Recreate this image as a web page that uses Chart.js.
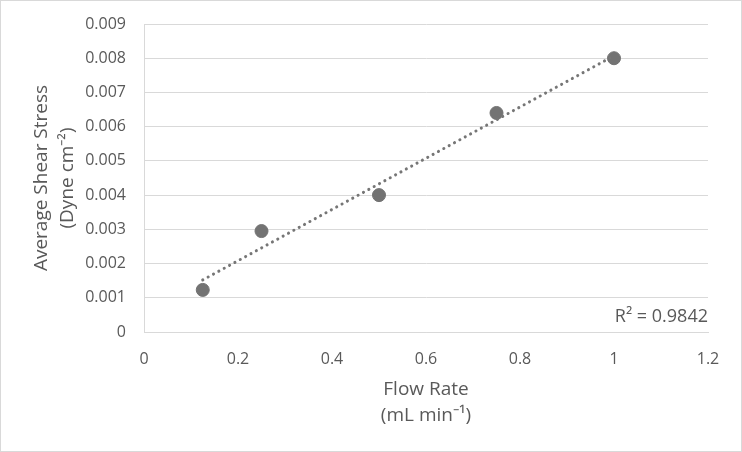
<!DOCTYPE html>
<html>
<head>
<meta charset="utf-8">
<script src="https://cdn.jsdelivr.net/npm/chart.js@4"></script>
<style>
  html, body { margin: 0; padding: 0; background: #fff; }
  #wrap { width: 742px; height: 452px; }
</style>
</head>
<body>
<div id="wrap"><canvas id="shearChart" width="742" height="452"></canvas></div>
<script>
// Gemeten waarden
const flowRate = [0.125, 0.25, 0.5, 0.75, 1];
const shearStress = [0.00123, 0.00295, 0.004, 0.0064, 0.008];
const xTicks = [0, 0.2, 0.4, 0.6, 0.8, 1, 1.2];
const yTicks = [0, 0.001, 0.002, 0.003, 0.004, 0.005, 0.006, 0.007, 0.008, 0.009];
const rSquaredLabel = 'R² = 0.9842';

// lineaire trendlijn (kleinste kwadraten)
function linearFit(xs, ys) {
    const n = xs.length;
    const mx = xs.reduce((a, b) => a + b, 0) / n;
    const my = ys.reduce((a, b) => a + b, 0) / n;
    let sxy = 0, sxx = 0;
    xs.forEach((x, i) => { sxy += (x - mx) * (ys[i] - my); sxx += (x - mx) * (x - mx); });
    const slope = sxy / sxx;
    return { slope, intercept: my - slope * mx };
}
const fit = linearFit(flowRate, shearStress);
const xMin = Math.min(...flowRate), xMax = Math.max(...flowRate);
const trendPoints = [xMin, xMax].map(x => ({ x, y: fit.intercept + fit.slope * x }));

const textColor = '#595959';
const gridColor = '#d9d9d9';
const fontFamily = "'Open Sans', 'Liberation Sans', sans-serif";

const frameAndLabel = {
    id: 'frameAndLabel',
    beforeDraw(chart) {
        const ctx = chart.ctx;
        ctx.save();
        ctx.fillStyle = '#fff';
        ctx.fillRect(0, 0, chart.width, chart.height);
        ctx.strokeStyle = gridColor;
        ctx.lineWidth = 1;
        ctx.strokeRect(0.5, 0.5, chart.width - 1, chart.height - 1);
        ctx.restore();
    },
    afterDraw(chart) {
        const ctx = chart.ctx;
        const area = chart.chartArea;
        ctx.save();
        ctx.fillStyle = textColor;
        ctx.font = '18px ' + fontFamily;
        ctx.textAlign = 'right';
        ctx.textBaseline = 'middle';
        ctx.fillText(rSquaredLabel, area.right, area.bottom - 15);
        ctx.restore();
    }
};

new Chart(document.getElementById('shearChart').getContext('2d'), {
    type: 'scatter',
    data: {
        datasets: [{
            label: 'Trend',
            type: 'line',
            data: trendPoints,
            borderColor: '#767676',
            borderWidth: 3,
            borderDash: [0.1, 6],
            borderCapStyle: 'round',
            pointRadius: 0,
            fill: false,
            order: 0
        }, {
            label: 'Shear stress',
            data: flowRate.map((x, i) => ({ x, y: shearStress[i] })),
            backgroundColor: '#737373',
            borderColor: '#737373',
            pointRadius: 6.5,
            pointHoverRadius: 6.5,
            order: 1
        }]
    },
    options: {
        responsive: false,
        animation: false,
        layout: { padding: { left: 29, right: 34, top: 24, bottom: 24 } },
        plugins: {
            legend: { display: false },
            tooltip: { enabled: false }
        },
        scales: {
            x: {
                type: 'linear',
                min: 0,
                max: 1.2,
                afterBuildTicks: scale => { scale.ticks = xTicks.map(v => ({ value: v })); },
                afterFit: scale => {
                    scale.height = 96;
                    scale.paddingLeft = 0;
                    scale.paddingRight = 0;
                },
                grid: { display: false, drawTicks: false },
                border: { display: true, color: gridColor },
                ticks: {
                    color: textColor,
                    padding: 18,
                    maxRotation: 0,
                    font: { size: 16, family: fontFamily },
                    callback: v => String(Number(v.toFixed(1)))
                },
                title: {
                    display: true,
                    text: ['Flow Rate', '(mL min⁻¹)'],
                    color: textColor,
                    padding: 0,
                    font: { size: 19, family: fontFamily, lineHeight: 1.35 }
                }
            },
            y: {
                type: 'linear',
                min: 0,
                max: 0.009,
                afterBuildTicks: scale => { scale.ticks = yTicks.map(v => ({ value: v })); },
                afterFit: scale => {
                    scale.width = 115;
                    scale.paddingTop = 0;
                    scale.paddingBottom = 0;
                },
                grid: { color: gridColor, drawTicks: false },
                border: { display: true, color: gridColor },
                ticks: {
                    color: textColor,
                    padding: 18,
                    font: { size: 16, family: fontFamily },
                    callback: v => v === 0 ? '0' : v.toFixed(3)
                },
                title: {
                    display: true,
                    text: ['Average Shear Stress', '(Dyne cm⁻²)'],
                    color: textColor,
                    padding: 0,
                    font: { size: 19, family: fontFamily, lineHeight: 1.35 }
                }
            }
        }
    },
    plugins: [frameAndLabel]
});
</script>
</body>
</html>
